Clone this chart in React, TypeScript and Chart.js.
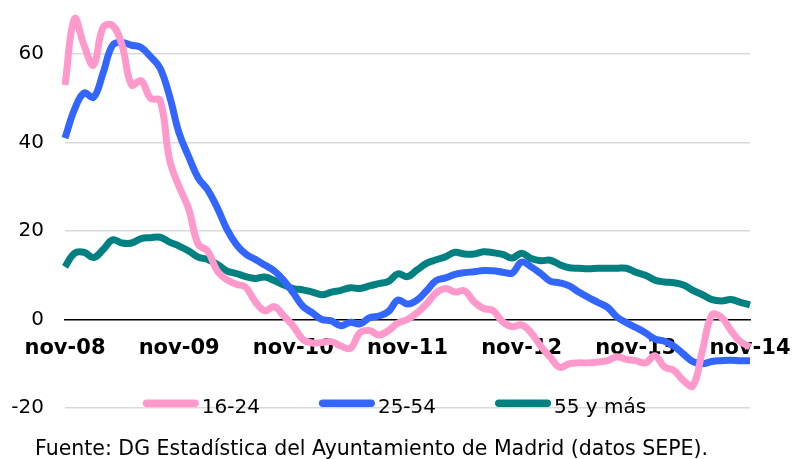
import React, { useEffect, useRef } from "react";
import { Chart, registerables } from "chart.js";

Chart.register(...registerables);

const months: string[] = [
  "nov-08", "dic-08",
  "ene-09", "feb-09", "mar-09", "abr-09", "may-09", "jun-09", "jul-09", "ago-09", "sep-09", "oct-09", "nov-09", "dic-09",
  "ene-10", "feb-10", "mar-10", "abr-10", "may-10", "jun-10", "jul-10", "ago-10", "sep-10", "oct-10", "nov-10", "dic-10",
  "ene-11", "feb-11", "mar-11", "abr-11", "may-11", "jun-11", "jul-11", "ago-11", "sep-11", "oct-11", "nov-11", "dic-11",
  "ene-12", "feb-12", "mar-12", "abr-12", "may-12", "jun-12", "jul-12", "ago-12", "sep-12", "oct-12", "nov-12", "dic-12",
  "ene-13", "feb-13", "mar-13", "abr-13", "may-13", "jun-13", "jul-13", "ago-13", "sep-13", "oct-13", "nov-13", "dic-13",
  "ene-14", "feb-14", "mar-14", "abr-14", "may-14", "jun-14", "jul-14", "ago-14", "sep-14", "oct-14", "nov-14",
];

const serie16_24: number[] = [
  53, 68, 62, 57.5, 66, 66.5, 62, 53, 54, 50, 49.5, 36,
  30, 25, 17, 15.5, 11, 9, 8, 7.3, 4, 2, 2.9, 0.8,
  -1.5, -4.5, -5.3, -5.2, -5, -6, -6.5, -3, -2.5, -3.5, -2.5, -0.8,
  0, 1.5, 3.5, 6, 7, 6.2, 6.5, 4, 2.5, 2, -0.5, -1.6,
  -1.2, -3, -6, -8.5, -10.8, -10, -9.8, -9.8, -9.6, -9.3, -8.4, -9,
  -9.3, -9.8, -8.2, -10.7, -11.5, -13.8, -15, -7, 1, 0.5, -2.5, -5,
  -6.2,
];

const serie25_54: number[] = [
  41, 47.5, 51.2, 50.2, 55.7, 62, 62.6, 62, 61.5, 59.4, 56.8, 50.4,
  42.1, 36.8, 32, 29.3, 25.3, 20.5, 17, 14.8, 13.6, 12.3, 11, 8.8,
  6, 3, 1.5, 0, -0.3, -1.4, -0.6, -1, 0.4, 0.8, 1.8, 4.4,
  3.5, 4.4, 6.5, 8.8, 9.4, 10.2, 10.6, 10.8, 11.1, 11, 10.7, 10.5,
  13, 11.9, 10.4, 8.7, 8.3, 7.6, 6.2, 5, 3.9, 2.8, 0.6, -0.7,
  -1.8, -3, -4.4, -4.9, -6, -7.8, -9.5, -10, -9.5, -9.3, -9.2, -9.3,
  -9.3,
];

const serie55: number[] = [
  11.9, 15, 15.2, 14, 15.8, 18, 17.3, 17.3, 18.3, 18.5, 18.6, 17.5,
  16.6, 15.5, 14.1, 13.6, 12.5, 11, 10.4, 9.7, 9.3, 9.6, 8.8, 7.8,
  7, 6.7, 6.2, 5.6, 6.2, 6.6, 7.2, 7, 7.6, 8.1, 8.6, 10.3,
  9.7, 11.2, 12.7, 13.5, 14.2, 15.2, 14.8, 14.8, 15.3, 15.1, 14.7, 13.9,
  15, 13.8, 13.3, 13.4, 12.4, 11.7, 11.6, 11.5, 11.6, 11.6, 11.6, 11.6,
  10.7, 10, 8.9, 8.5, 8.3, 7.8, 6.6, 5.6, 4.5, 4.2, 4.5, 3.9,
  3.3,
];

const seriesLabels: string[] = ["16-24", "25-54", "55 y más"];
const seriesColors: string[] = ["#FF99CC", "#3366FF", "#008080"];
const yTicks: number[] = [-20, 0, 20, 40, 60];
const sourceText = "Fuente: DG Estadística del Ayuntamiento de Madrid (datos SEPE).";

const FONT = '"DejaVu Sans", Verdana, sans-serif';

const legendPlugin = {
  id: "customLegend",
  afterDraw(chart: any) {
    const ctx = chart.ctx as CanvasRenderingContext2D;
    ctx.save();
    ctx.font = `20px ${FONT}`;
    ctx.fillStyle = "#000";
    ctx.textBaseline = "alphabetic";
    ctx.textAlign = "left";
    const items = chart.data.datasets.map((ds: any) => ({
      label: ds.label as string,
      color: ds.borderColor as string,
      w: ctx.measureText(ds.label).width,
    }));
    const lineLen = 56;
    const gapLT = 3;
    const gapItem = 59;
    const total =
      items.reduce((s: number, it: any) => s + lineLen + gapLT + it.w, 0) +
      gapItem * (items.length - 1);
    let x = 394.5 - total / 2;
    for (const it of items) {
      ctx.strokeStyle = it.color;
      ctx.lineWidth = 7.5;
      ctx.lineCap = "round";
      ctx.beginPath();
      ctx.moveTo(x + 3.75, 403.3);
      ctx.lineTo(x + lineLen - 3.75, 403.3);
      ctx.stroke();
      ctx.fillText(it.label, x + lineLen + gapLT, 413);
      x += lineLen + gapLT + it.w + gapItem;
    }
    // source note
    ctx.font = `20.5px ${FONT}`;
    ctx.fillText(sourceText, 35, 455);
    ctx.restore();
  },
};

export default function App() {
  const canvasRef = useRef<HTMLCanvasElement | null>(null);

  useEffect(() => {
    document.body.style.margin = "0";
    const canvas = canvasRef.current;
    if (!canvas) return;
    Chart.defaults.font.family = FONT;
    Chart.defaults.color = "#000";
    const seriesData = [serie16_24, serie25_54, serie55];
    const chart = new Chart(canvas, {
      type: "line",
      data: {
        labels: months,
        datasets: seriesData.map((d, i) => ({
          label: seriesLabels[i],
          data: d,
          borderColor: seriesColors[i],
          backgroundColor: seriesColors[i],
          borderWidth: 7,
          pointRadius: 0,
          tension: 0.4,
          fill: false,
          borderCapStyle: "butt" as const,
          borderJoinStyle: "round" as const,
        })),
      },
      options: {
        animation: false,
        responsive: true,
        maintainAspectRatio: false,
        layout: { padding: { left: 0, right: 42, top: 1, bottom: 51 } },
        plugins: {
          legend: { display: false },
          tooltip: { enabled: false },
        },
        scales: {
          x: {
            type: "category",
            position: { y: 0 } as any,
            offset: false,
            grid: { display: false, drawTicks: false },
            border: { display: true, color: "#000", width: 1.5 },
            ticks: {
              autoSkip: false,
              maxRotation: 0,
              minRotation: 0,
              padding: 16,
              font: { size: 21, weight: "bold", family: FONT },
              color: "#000",
              callback: (_v: any, index: number) => (index % 12 === 0 ? months[index] : ""),
            },
            afterFit: (scale: any) => {
              scale.height = 0;
              scale.paddingLeft = 0;
              scale.paddingRight = 0;
              scale.paddingTop = 0;
              scale.paddingBottom = 0;
            },
          },
          y: {
            type: "linear",
            min: -20,
            max: 72,
            afterBuildTicks: (scale: any) => {
              scale.ticks = yTicks.map((v) => ({ value: v }));
            },
            afterFit: (scale: any) => {
              scale.width = 65;
              scale.paddingTop = 0;
              scale.paddingBottom = 0;
              scale.paddingLeft = 0;
              scale.paddingRight = 0;
            },
            grid: {
              drawTicks: false,
              color: (ctx: any) => (ctx.tick && ctx.tick.value === 0 ? "rgba(0,0,0,0)" : "#D9D9D9"),
              lineWidth: 1.5,
            },
            border: { display: false },
            ticks: {
              padding: 21,
              font: { size: 20, family: FONT },
              color: "#000",
            },
          },
        },
      },
      plugins: [legendPlugin],
    });
    return () => chart.destroy();
  }, []);

  return (
    <div style={{ position: "relative", width: 792, height: 459 }}>
      <canvas ref={canvasRef} />
    </div>
  );
}
